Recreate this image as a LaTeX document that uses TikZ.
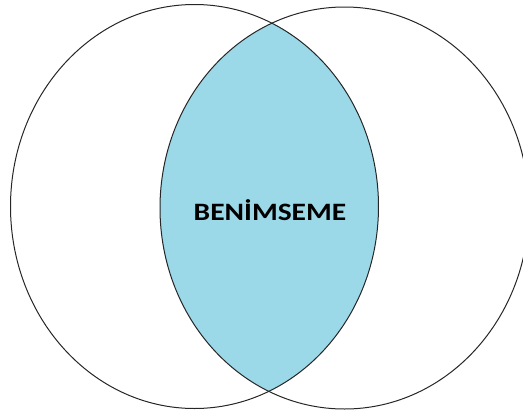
\documentclass[tikz,border=0pt]{standalone}
\usepackage{fontspec}
\setmainfont{Carlito}
\definecolor{lensblue}{RGB}{155,217,233}
\begin{document}
\begin{tikzpicture}[x=1pt,y=-1pt,
  ring/.style={draw=black!85,line width=1pt},
  lbl/.style={font=\bfseries\fontsize{25}{29}\selectfont,text=black,inner sep=0pt}]
\useasboundingbox (0,0) rectangle (523,413);
\begin{scope}
  \clip (194.5,206.5) ellipse [x radius=184, y radius=202];
  \fill[lensblue] (344.5,208) ellipse [x radius=184.5, y radius=201];
\end{scope}
\draw[ring] (194.5,206.5) ellipse [x radius=184, y radius=202];
\draw[ring] (344.5,208) ellipse [x radius=184.5, y radius=201];
\node[lbl] (label) at (270,210) {\scalebox{1.18}[1]{BENİMSEME}};
\end{tikzpicture}
\end{document}
